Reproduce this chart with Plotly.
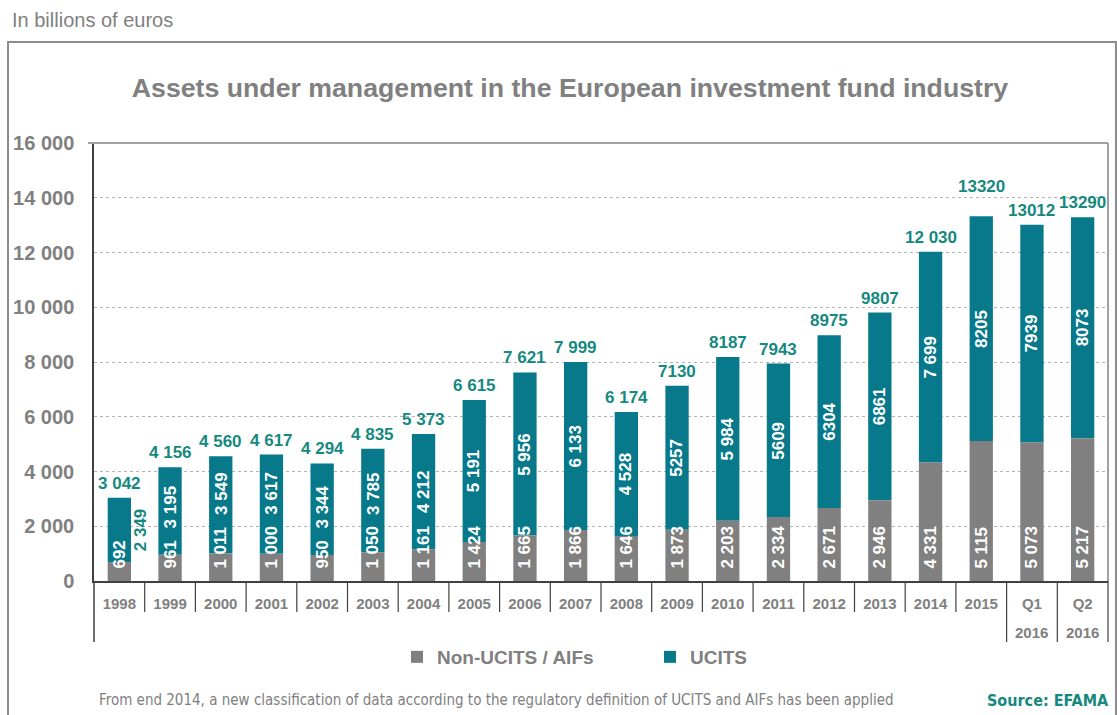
import plotly.graph_objects as go

TEAL = "#08798b"
TEAL_TEXT = "#16897f"
GREY = "#808080"
DARK = "#404040"
FONT = "Liberation Sans, Arial, sans-serif"
NARROW = "Liberation Sans Narrow, DejaVu Sans Condensed, Arial, sans-serif"

W, H = 1117, 715
L, R, T, B = 94, 9, 143, 134

categories = ["1998", "1999", "2000", "2001", "2002", "2003", "2004", "2005", "2006", "2007",
              "2008", "2009", "2010", "2011", "2012", "2013", "2014", "2015", "Q1", "Q2"]
non_ucits = [692, 961, 1011, 1000, 950, 1050, 1161, 1424, 1665, 1866,
             1646, 1873, 2203, 2334, 2671, 2946, 4331, 5115, 5073, 5217]
ucits = [2349, 3195, 3549, 3617, 3344, 3785, 4212, 5191, 5956, 6133,
         4528, 5257, 5984, 5609, 6304, 6861, 7699, 8205, 7939, 8073]
totals = [3042, 4156, 4560, 4617, 4294, 4835, 5373, 6615, 7621, 7999,
          6174, 7130, 8187, 7943, 8975, 9807, 12030, 13320, 13012, 13290]

non_ucits_labels = ["692", "961", "1 011", "1 000", "950", "1 050", "1 161", "1 424", "1 665", "1 866",
                    "1 646", "1 873", "2 203", "2 334", "2 671", "2 946", "4 331", "5 115", "5 073", "5 217"]
ucits_labels = ["2 349", "3 195", "3 549", "3 617", "3 344", "3 785", "4 212", "5 191", "5 956", "6 133",
                "4 528", "5257", "5 984", "5609", "6304", "6861", "7 699", "8205", "7939", "8073"]
total_labels = ["3 042", "4 156", "4 560", "4 617", "4 294", "4 835", "5 373", "6 615", "7 621", "7 999",
                "6 174", "7130", "8187", "7943", "8975", "9807", "12 030", "13320", "13012", "13290"]

y_ticks = [0, 2000, 4000, 6000, 8000, 10000, 12000, 14000, 16000]
y_max = 16000
quarter_year = "2016"


def px_x(px):
    return (px - L) / (W - L - R)


def px_y(py):
    return (H - B - py) / (H - T - B)


LABEL_SIZE = 17
pad = "\u00a0\u00a0"
bar_font = dict(color="white", size=LABEL_SIZE, family=FONT, weight="bold")
total_font = dict(color=TEAL_TEXT, size=LABEL_SIZE, family=FONT, weight="bold")
units_per_px = y_max / (H - T - B)


def text_len(s):
    # rough width of bold Arial digits / spaces, in px
    return sum(0.278 if ch == " " else 0.556 for ch in s) * LABEL_SIZE


fig = go.Figure()

fig.add_trace(
    go.Bar(
        x=categories,
        y=ucits,
        base=non_ucits,
        name="UCITS",
        legendrank=2,
        marker=dict(color=TEAL, line=dict(width=0)),
        width=0.46,
        hoverinfo="skip",
    )
)

fig.add_trace(
    go.Bar(
        x=categories,
        y=non_ucits,
        name="Non-UCITS / AIFs",
        legendrank=1,
        marker=dict(color=GREY, line=dict(width=0)),
        width=0.46,
        text=[pad + t for t in non_ucits_labels],
        textposition="inside",
        insidetextanchor="start",
        textangle=-90,
        constraintext="none",
        textfont=bar_font,
        hoverinfo="skip",
    )
)

# UCITS labels: centred in the segment, pushed up when they would hit the grey label
for i, label in enumerate(ucits_labels):
    centre = non_ucits[i] + ucits[i] / 2
    if i == 0:
        # this one sits outside the bar in the original
        fig.add_annotation(
            x=i, y=centre, text=label, textangle=-90, showarrow=False, xshift=22,
            font=total_font,
        )
        continue
    grey_top_px = 12 + text_len(non_ucits_labels[i])
    min_centre = (grey_top_px + 12 + text_len(label) / 2) * units_per_px
    fig.add_annotation(
        x=i, y=max(centre, min_centre), yanchor="middle", text=label, textangle=-90,
        showarrow=False, font=bar_font,
    )

# totals above the bars (the 2015 one sits a little higher in the original)
for i, (total, label) in enumerate(zip(totals, total_labels)):
    fig.add_annotation(
        x=i, y=total, yanchor="bottom", text=label, showarrow=False,
        yshift=18 if categories[i] == "2015" else 3,
        font=total_font,
    )

shapes = []
# outer frame
shapes.append(dict(type="rect", xref="paper", yref="paper",
                   x0=px_x(8), x1=px_x(1116), y0=px_y(730), y1=px_y(42),
                   line=dict(color="#8c8c8c", width=2)))
# top and right border of the plot area
shapes.append(dict(type="line", xref="paper", yref="paper", x0=px_x(88), x1=1, y0=1, y1=1,
                   line=dict(color="#a0a0a0", width=2)))
shapes.append(dict(type="line", xref="paper", yref="paper", x0=1, x1=1, y0=1, y1=0,
                   line=dict(color="#a0a0a0", width=2)))
# category separators below the axis
for i in range(len(categories) - 1):
    long_sep = categories[i + 1].startswith("Q")
    shapes.append(dict(type="line", xref="x", yref="paper", x0=i + 0.5, x1=i + 0.5,
                       y0=0, y1=px_y(642 if long_sep else 612),
                       line=dict(color=DARK, width=1.2)))
shapes.append(dict(type="line", xref="paper", yref="paper", x0=1, x1=1, y0=0, y1=px_y(642),
                   line=dict(color=DARK, width=1.2)))
shapes.append(dict(type="line", xref="paper", yref="paper", x0=0, x1=0, y0=0, y1=px_y(642),
                   line=dict(color=DARK, width=1.5)))

for i, c in enumerate(categories):
    if c.startswith("Q"):
        fig.add_annotation(
            x=i, y=px_y(632), yref="paper", yanchor="middle", text=quarter_year, showarrow=False,
            font=dict(color=GREY, size=15, family=FONT, weight="bold"),
        )

fig.add_annotation(
    x=px_x(10), y=px_y(20), xref="paper", yref="paper", xanchor="left", yanchor="middle",
    text="In billions of euros", showarrow=False,
    font=dict(color=GREY, size=20, family=FONT),
)
fig.add_annotation(
    x=px_x(97), y=px_y(700), xref="paper", yref="paper", xanchor="left", yanchor="middle",
    text="From end 2014, a new classification of data according to the regulatory definition of UCITS and AIFs has been applied",
    showarrow=False,
    font=dict(color=GREY, size=15, family=NARROW),
)
fig.add_annotation(
    x=px_x(1111), y=px_y(700), xref="paper", yref="paper", xanchor="right", yanchor="middle",
    text="Source: EFAMA", showarrow=False,
    font=dict(color=TEAL_TEXT, size=16, family=NARROW, weight="bold"),
)

fig.update_layout(
    width=W,
    height=H,
    margin=dict(l=L, r=R, t=T, b=B),
    paper_bgcolor="white",
    plot_bgcolor="white",
    barmode="overlay",
    separators=". ",
    font=dict(family=FONT, color=GREY),
    title=dict(
        text="<b>Assets under management in the European investment fund industry</b>",
        x=570 / W, xref="container", xanchor="center",
        y=1 - 88 / H, yref="container", yanchor="middle",
        font=dict(size=26.7, color=GREY, family=FONT),
    ),
    legend=dict(
        orientation="h",
        x=px_x(397), xanchor="left",
        y=px_y(657), yanchor="middle",
        entrywidth=208, entrywidthmode="pixels",
        font=dict(size=19, color=GREY, family=FONT, weight="bold"),
        bgcolor="rgba(0,0,0,0)",
        traceorder="normal",
    ),
    shapes=shapes,
)

fig.update_xaxes(
    type="category",
    range=[-0.5, len(categories) - 0.5],
    showline=True,
    linecolor=DARK,
    linewidth=1.5,
    ticks="",
    showgrid=False,
    ticklabelstandoff=8,
    tickfont=dict(size=15, color=GREY, family=FONT, weight="bold"),
)

fig.update_yaxes(
    range=[0, y_max],
    tickmode="array",
    tickvals=y_ticks,
    tickformat=",d",
    showline=True,
    linecolor=DARK,
    linewidth=1.5,
    showgrid=True,
    gridcolor="#b3b3b3",
    griddash="dot",
    gridwidth=1,
    zeroline=False,
    ticks="",
    ticklabelstandoff=14,
    tickfont=dict(size=20, color=GREY, family=FONT, weight="bold"),
)

fig.write_html(
    "out.html",
    config={"displayModeBar": False},
    post_script="document.body.style.margin = '0';",
)
